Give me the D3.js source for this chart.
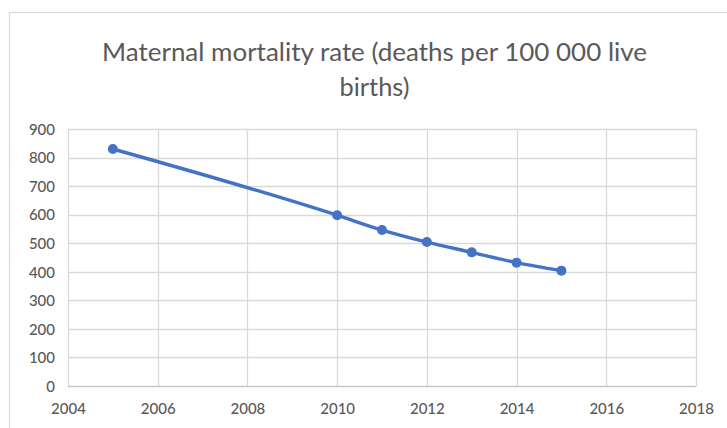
<!DOCTYPE html>
<html>
<head>
<meta charset="utf-8">
<script src="https://cdn.jsdelivr.net/npm/d3@7"></script>
<style>
	body { margin: 0; background: #fff; }
	svg { display: block; }
</style>
</head>
<body>
<div id="chart"></div>
<script>

// chart values
var years = [2005, 2010, 2011, 2012, 2013, 2014, 2015];
var rates = [830, 598, 546, 504, 468, 432, 404];
var xTicks = [2004, 2006, 2008, 2010, 2012, 2014, 2016, 2018];
var yTicks = [0, 100, 200, 300, 400, 500, 600, 700, 800, 900];
var titleLines = ["Maternal mortality rate (deaths per 100 000 live", "births)"];

var width = 727, height = 428;
var margin = {top: 129, right: 31, bottom: 42, left: 68};

var svg = d3.select("#chart").append("svg")
	.attr("width", width)
	.attr("height", height);

// outer chart frame (runs off the right and bottom edge)
svg.append("rect")
	.attr("x", 9.5).attr("y", 12.5)
	.attr("width", width + 20).attr("height", height + 20)
	.attr("fill", "#fff")
	.attr("stroke", "#d9d9d9")
	.attr("stroke-width", 1.2);

var x = d3.scaleLinear().domain([2004, 2018]).range([margin.left, width - margin.right]);
var y = d3.scaleLinear().domain([0, 900]).range([height - margin.bottom, margin.top]);

var font = "Lato, 'Open Sans', 'Liberation Sans', sans-serif";

// title
svg.append("g").selectAll("text")
	.data(titleLines)
	.enter().append("text")
	.attr("x", 374.5)
	.attr("y", function(d, i) { return 61 + i * 35; })
	.attr("text-anchor", "middle")
	.attr("font-family", font)
	.attr("font-size", 25)
	.attr("fill", "#595959")
	.attr("textLength", function(d, i) { return i == 0 ? 545 : 70; })
	.attr("lengthAdjust", "spacingAndGlyphs")
	.text(function(d) { return d; });

// grid
var grid = svg.append("g");
grid.selectAll("line.h")
	.data(yTicks)
	.enter().append("line")
	.attr("class", "h")
	.attr("x1", x(2004)).attr("x2", x(2018))
	.attr("y1", function(d) { return Math.round(y(d)) + 0.5; })
	.attr("y2", function(d) { return Math.round(y(d)) + 0.5; })
	.attr("stroke", function(d) { return d == 0 ? "#c8c8c8" : "#d9d9d9"; })
	.attr("stroke-width", 1.3);

grid.selectAll("line.v")
	.data(xTicks)
	.enter().append("line")
	.attr("class", "v")
	.attr("y1", y(0)).attr("y2", y(900))
	.attr("x1", function(d) { return Math.round(x(d)) + 0.5; })
	.attr("x2", function(d) { return Math.round(x(d)) + 0.5; })
	.attr("stroke", "#d9d9d9")
	.attr("stroke-width", 1.3);

// axes labels
var yAxis = d3.axisLeft(y).tickValues(yTicks).tickSize(0).tickPadding(13);
var xAxis = d3.axisBottom(x).tickValues(xTicks).tickSize(0).tickPadding(19).tickFormat(d3.format("d"));

var gy = svg.append("g").attr("transform", "translate(" + margin.left + ",0)").call(yAxis);
var gx = svg.append("g").attr("transform", "translate(0," + (height - margin.bottom) + ")").call(xAxis);

[gx, gy].forEach(function(g) {
	g.select(".domain").remove();
	g.selectAll("text")
		.attr("font-family", font)
		.attr("font-size", 15)
		.attr("font-weight", 500)
		.attr("fill", "#595959");
});
gy.selectAll("text").attr("dy", "0.35em");
gx.selectAll("text").attr("dy", "0.6em");

// line + markers
var pts = years.map(function(d, i) { return [d, rates[i]]; });

var line = d3.line()
	.x(function(d) { return x(d[0]); })
	.y(function(d) { return y(d[1]); })
	.curve(d3.curveMonotoneX);

svg.append("path")
	.datum(pts)
	.attr("d", line)
	.attr("fill", "none")
	.attr("stroke", "#4472c4")
	.attr("stroke-width", 3.4);

svg.append("g").selectAll("circle")
	.data(pts)
	.enter().append("circle")
	.attr("cx", function(d) { return x(d[0]); })
	.attr("cy", function(d) { return y(d[1]); })
	.attr("r", 5)
	.attr("fill", "#4472c4");

</script>
</body>
</html>
